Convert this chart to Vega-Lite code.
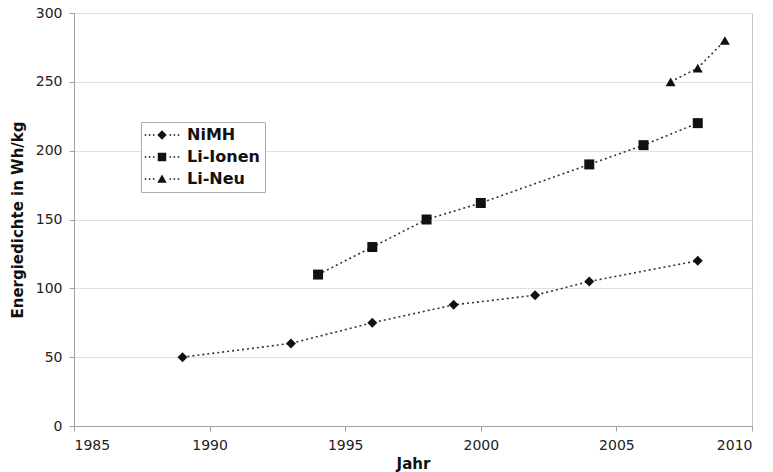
{
  "$schema": "https://vega.github.io/schema/vega-lite/v6.json",
  "width": 678,
  "height": 413,
  "autosize": "none",
  "padding": {"left": 74, "top": 13, "right": 21, "bottom": 46},
  "background": "white",
  "config": {
    "font": "DejaVu Sans",
    "view": {"stroke": "#c8c8c8", "strokeWidth": 1},
    "axis": {
      "labelFont": "DejaVu Sans",
      "labelFontSize": 14,
      "labelColor": "#222",
      "titleFont": "DejaVu Sans",
      "titleFontSize": 15,
      "titleFontWeight": "bold",
      "titleColor": "#111",
      "domainColor": "#a0a0a0",
      "tickColor": "#a0a0a0",
      "tickSize": 5,
      "labelPadding": 7
    }
  },
  "data": {
    "values": [
      {"series": "NiMH", "year": 1989, "value": 50},
      {"series": "NiMH", "year": 1993, "value": 60},
      {"series": "NiMH", "year": 1996, "value": 75},
      {"series": "NiMH", "year": 1999, "value": 88},
      {"series": "NiMH", "year": 2002, "value": 95},
      {"series": "NiMH", "year": 2004, "value": 105},
      {"series": "NiMH", "year": 2008, "value": 120},
      {"series": "Li-Ionen", "year": 1994, "value": 110},
      {"series": "Li-Ionen", "year": 1996, "value": 130},
      {"series": "Li-Ionen", "year": 1998, "value": 150},
      {"series": "Li-Ionen", "year": 2000, "value": 162},
      {"series": "Li-Ionen", "year": 2004, "value": 190},
      {"series": "Li-Ionen", "year": 2006, "value": 204},
      {"series": "Li-Ionen", "year": 2008, "value": 220},
      {"series": "Li-Neu", "year": 2007, "value": 250},
      {"series": "Li-Neu", "year": 2008, "value": 260},
      {"series": "Li-Neu", "year": 2009, "value": 280}
    ]
  },
  "encoding": {
    "x": {
      "field": "year",
      "type": "quantitative",
      "scale": {"domain": [1985, 2010], "nice": false, "zero": false},
      "axis": {
        "title": "Jahr",
        "values": [1985, 1990, 1995, 2000, 2005, 2010],
        "format": "d",
        "grid": false,
        "titlePadding": 4
      }
    },
    "y": {
      "field": "value",
      "type": "quantitative",
      "scale": {"domain": [0, 300], "nice": false},
      "axis": {
        "title": "Energiedichte in Wh/kg",
        "values": [0, 50, 100, 150, 200, 250, 300],
        "grid": true,
        "gridColor": "#e0e0e0",
        "titlePadding": 10
      }
    }
  },
  "resolve": {"scale": {"shape": "independent"}, "legend": {"shape": "independent"}},
  "layer": [
    {
      "mark": {"type": "line", "stroke": "#333", "strokeWidth": 1.6, "strokeDash": [2, 3]},
      "encoding": {
        "detail": {"field": "series"},
        "order": {"field": "year"}
      }
    },
    {
      "mark": {"type": "point", "filled": true, "color": "#111", "opacity": 1, "size": 100},
      "encoding": {
        "shape": {
          "field": "series",
          "type": "nominal",
          "scale": {"domain": ["NiMH", "Li-Ionen", "Li-Neu"], "range": ["diamond", "square", "triangle-up"]},
          "legend": null
        }
      }
    },
    {
      "mark": {"type": "point", "filled": true, "color": "#111", "opacity": 0, "size": 80},
      "encoding": {
        "shape": {
          "field": "series",
          "type": "nominal",
          "scale": {
            "domain": ["NiMH", "Li-Ionen", "Li-Neu"],
            "range": [
              "M-1.05,0L0,-1.05L1.05,0L0,1.05Z M-3.86,-0.17L-3.52,-0.17L-3.52,0.17L-3.86,0.17Z M-2.94,-0.17L-2.6,-0.17L-2.6,0.17L-2.94,0.17Z M-2.03,-0.17L-1.69,-0.17L-1.69,0.17L-2.03,0.17Z M1.69,-0.17L2.03,-0.17L2.03,0.17L1.69,0.17Z M2.6,-0.17L2.94,-0.17L2.94,0.17L2.6,0.17Z M3.52,-0.17L3.86,-0.17L3.86,0.17L3.52,0.17Z",
              "M-0.95,-0.95L0.95,-0.95L0.95,0.95L-0.95,0.95Z M-3.86,-0.17L-3.52,-0.17L-3.52,0.17L-3.86,0.17Z M-2.94,-0.17L-2.6,-0.17L-2.6,0.17L-2.94,0.17Z M-2.03,-0.17L-1.69,-0.17L-1.69,0.17L-2.03,0.17Z M1.69,-0.17L2.03,-0.17L2.03,0.17L1.69,0.17Z M2.6,-0.17L2.94,-0.17L2.94,0.17L2.6,0.17Z M3.52,-0.17L3.86,-0.17L3.86,0.17L3.52,0.17Z",
              "M0,-1L1.05,0.85L-1.05,0.85Z M-3.86,-0.17L-3.52,-0.17L-3.52,0.17L-3.86,0.17Z M-2.94,-0.17L-2.6,-0.17L-2.6,0.17L-2.94,0.17Z M-2.03,-0.17L-1.69,-0.17L-1.69,0.17L-2.03,0.17Z M1.69,-0.17L2.03,-0.17L2.03,0.17L1.69,0.17Z M2.6,-0.17L2.94,-0.17L2.94,0.17L2.6,0.17Z M3.52,-0.17L3.86,-0.17L3.86,0.17L3.52,0.17Z"
            ]
          },
          "legend": {
            "title": null,
            "orient": "none",
            "legendX": 67,
            "legendY": 109,
            "strokeColor": "#aaa",
            "fillColor": "white",
            "padding": 5,
            "labelFont": "DejaVu Sans",
            "labelFontSize": 16,
            "labelFontWeight": "bold",
            "labelColor": "#111",
            "symbolSize": 80,
            "symbolFillColor": "#111",
            "symbolOpacity": 1,
            "symbolStrokeWidth": 0,
            "rowPadding": 6,
            "symbolOffset": 8,
            "labelOffset": 17
          }
        }
      }
    }
  ]
}
